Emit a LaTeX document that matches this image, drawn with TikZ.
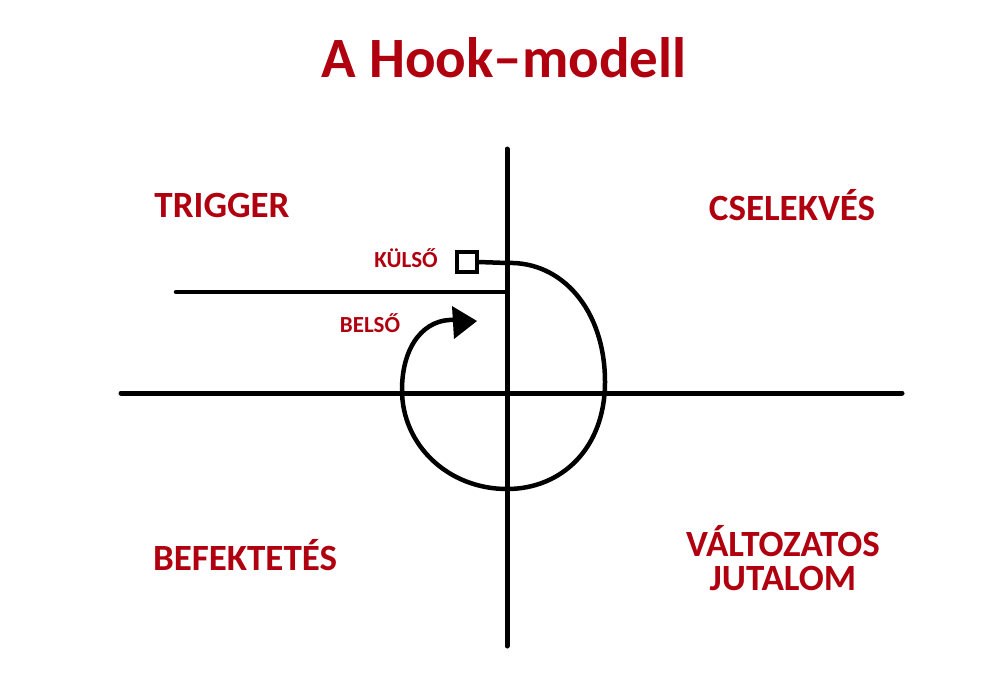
\documentclass[tikz,border=0pt]{standalone}
\usepackage{fontspec}
\setmainfont{Carlito}
\usetikzlibrary{arrows.meta}
\definecolor{hookred}{RGB}{176,0,16}
\tikzset{
  lbl/.style={text=hookred, font=\bfseries\fontsize{37}{40}\selectfont, anchor=base, inner sep=0pt},
  small/.style={text=hookred, font=\bfseries\fontsize{23}{25}\selectfont, anchor=base, inner sep=0pt},
  ttl/.style={text=hookred, font=\bfseries\fontsize{57}{60}\selectfont, anchor=base, inner sep=0pt},
  ink/.style={draw=black, line width=5pt, line cap=round, line join=round},
}
\begin{document}
\begin{tikzpicture}[x=1pt,y=-1pt]
\useasboundingbox (0,0) rectangle (1000,688);
\fill[white] (0,0) rectangle (1000,688);
% title and labels
\node[ttl] (title) at (504,77) {A Hook–modell};
\node[lbl] (trigger) at (222,217) {TRIGGER};
\node[lbl] (action) at (792,220) {CSELEKVÉS};
\node[lbl] (invest) at (245,570) {BEFEKTETÉS};
\node[lbl] (reward1) at (783,556) {VÁLTOZATOS};
\node[lbl] (reward2) at (783,590) {JUTALOM};
\node[small] (ext) at (406,267) {KÜLSŐ};
\node[small] (int) at (370,332) {BELSŐ};
% axes
\coordinate (vtop) at (507,149);
\coordinate (vbot) at (507,646);
\coordinate (hl) at (121,393);
\coordinate (hr) at (902,393);
\draw[ink] (vtop) -- (vbot);
\draw[ink] (hl) -- (hr);
% trigger line
\coordinate (tl) at (176,292);
\coordinate (tr) at (507,292);
\draw[ink, line width=4.5pt] (tl) -- (tr);
% external trigger box
\node[draw=black, line width=3.5pt, minimum size=20pt, inner sep=0pt] (box) at (467,262) {};
\coordinate (loopstart) at (507,263);
\coordinate (tip) at (477,321);
\draw[ink, line width=4.5pt] (box.east) -- (loopstart)
  .. controls (562,261) and (605,310) .. (605,382)
  .. controls (605,448) and (562,489) .. (507,489)
  .. controls (448,489) and (402,445) .. (402,390)
  .. controls (402,345) and (425,318) .. (455,320);
\fill[black] (452,306) -- (tip) -- (454,339) -- cycle;
\end{tikzpicture}
\end{document}
